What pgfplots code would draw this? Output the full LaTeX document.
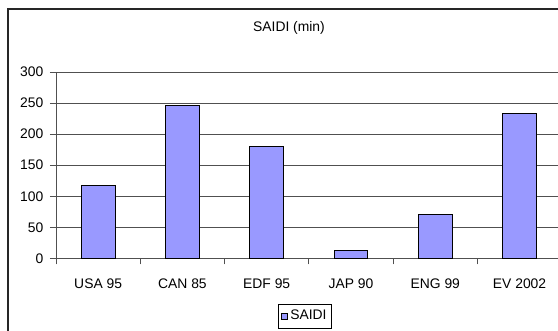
\documentclass[border=0pt]{standalone}
\usepackage{pgfplots}
\pgfplotsset{compat=1.18}
\usepackage{fontspec}
\setmainfont{Liberation Sans}
\definecolor{barblue}{RGB}{153,153,255}
\definecolor{gridgray}{RGB}{80,80,80}

\begin{document}
\begin{tikzpicture}
  % canvas: 558 x 331 px at 0.75pt per px
  \useasboundingbox (0pt,0pt) rectangle (418.5pt,248.25pt);
  \clip (0pt,0pt) rectangle (418.5pt,248.25pt);
  % outer chart frame
  \draw[line width=0.8pt, black!85] (6pt,-5pt) -- (6pt,241.5pt) -- (430pt,241.5pt);
  % chart title
  \node[font=\fontsize{10.4}{12}\selectfont] at (216.75pt,227pt) {SAIDI (min)};
  \begin{axis}[
    at={(42pt,54.5pt)}, anchor=south west,
    scale only axis,
    width=379.3pt, height=139.7pt,
    xmin=-0.5, xmax=5.5,
    ymin=0, ymax=300,
    ytick={0,50,...,300},
    xtick={-0.5,0.5,1.5,2.5,3.5,4.5,5.5},
    x tick label as interval,
    xticklabels={USA 95,CAN 85,EDF 95,JAP 90,ENG 99,EV 2002},
    tick style={draw=gridgray, line width=0.7pt},
    tick align=outside,
    major tick length=4.5pt,
    axis x line*=bottom, axis y line*=left,
    axis line style={-, draw=gridgray, line width=0.7pt},
    ymajorgrids,
    grid style={draw=gridgray, line width=0.6pt},
    /pgf/number format/assume math mode=true,
    tick label style={font=\fontsize{10.4}{12}\selectfont},
    yticklabel style={anchor=east, xshift=-1.5pt},
    xticklabel style={anchor=base, yshift=-17.8pt},
    ybar, bar width=0.4,
    legend style={at={(0.493,-0.31)}, anchor=center, draw=black,
      line width=0.6pt, font=\fontsize{10.4}{12}\selectfont,
      inner xsep=2pt, inner ysep=2.5pt},
    legend image code/.code={%
      \draw[#1, line width=0.5pt] (0pt,-2.2pt) rectangle (4.2pt,2.4pt);},
  ]
    \addplot[fill=barblue, draw=black, line width=0.7pt]
      coordinates {(0,118) (1,246) (2,180) (3,12) (4,71) (5,234)};
    \addlegendentry{SAIDI}
  \end{axis}
\end{tikzpicture}
\end{document}
